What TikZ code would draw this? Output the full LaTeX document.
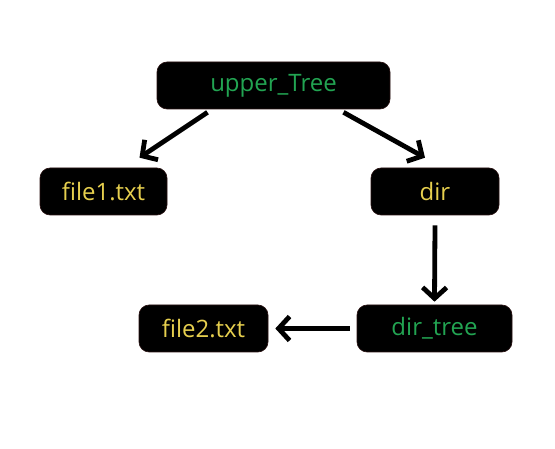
\documentclass[tikz,border=0pt]{standalone}
\usepackage{fontspec}
\setmainfont{Open Sans}
\usetikzlibrary{arrows.meta}
\definecolor{tgreen}{HTML}{22A452}
\definecolor{tyellow}{HTML}{E6CF4E}
\definecolor{tedge}{HTML}{2A1212}
\tikzset{
  box/.style={fill=black, draw=tedge, line width=0.6pt, rounded corners=10pt, inner sep=0pt, font=\fontsize{24}{26}\selectfont},
  dirbox/.style={box, text=tgreen},
  filebox/.style={box, text=tyellow},
  conn/.style={line width=4.8pt, -{Straight Barb[length=11pt, width=24pt, line width=4.8pt]}}
}
\begin{document}
\begin{tikzpicture}[x=1pt, y=-1pt]
\useasboundingbox (0,0) rectangle (555,449);
\node[dirbox, minimum width=233pt, minimum height=47pt] (uT) at (273.5,85.5) {upper\_Tree};
\node[filebox, minimum width=127pt, minimum height=47pt] (f1) at (103.5,191.5) {file1.txt};
\node[filebox, minimum width=128pt, minimum height=47pt] (dir) at (435,191.5) {dir};
\node[dirbox, minimum width=155pt, minimum height=47pt] (dt) at (434.5,328.5) {dir\_tree};
\node[filebox, minimum width=129pt, minimum height=47pt] (f2) at (203.5,328.5) {file2.txt};
\draw[conn] ([xshift=-66pt,yshift=-3pt]uT.south) -- ([xshift=36pt,yshift=10pt]f1.north);
\draw[conn] ([xshift=70pt,yshift=-3pt]uT.south) -- ([xshift=-10pt,yshift=10pt]dir.north);
\draw[conn] ([yshift=-10pt]dir.south) -- ([yshift=3pt]dt.north);
\draw[conn] ([xshift=-7pt]dt.west) -- ([xshift=7pt]f2.east);
\end{tikzpicture}
\end{document}
